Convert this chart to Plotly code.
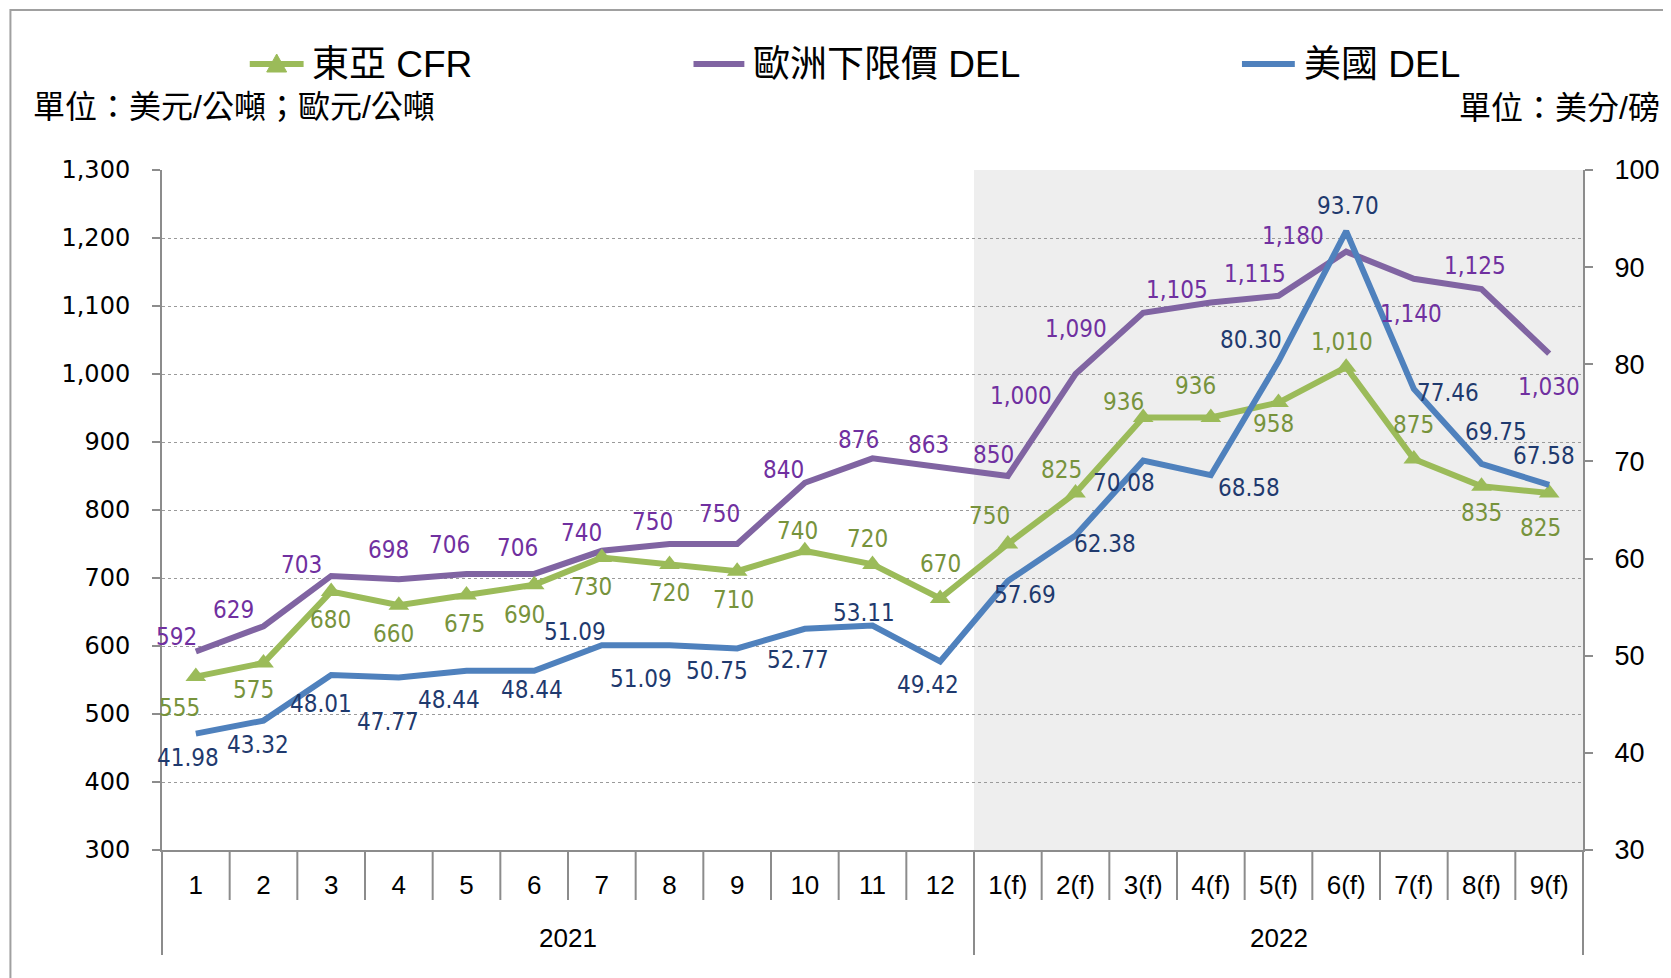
import plotly.graph_objects as go

# ---------------- data ----------------
months = ["1", "2", "3", "4", "5", "6", "7", "8", "9", "10", "11", "12",
          "1(f)", "2(f)", "3(f)", "4(f)", "5(f)", "6(f)", "7(f)", "8(f)", "9(f)"]
years = ["2021", "2022"]
year_counts = [12, 9]

east_asia_cfr = [555, 575, 680, 660, 675, 690, 730, 720, 710, 740, 720, 670,
                 750, 825, 936, 936, 958, 1010, 875, 835, 825]
europe_del = [592, 629, 703, 698, 706, 706, 740, 750, 750, 840, 876, 863,
              850, 1000, 1090, 1105, 1115, 1180, 1140, 1125, 1030]
us_del = [41.98, 43.32, 48.01, 47.77, 48.44, 48.44, 51.09, 51.09, 50.75, 52.77, 53.11, 49.42,
          57.69, 62.38, 70.08, 68.58, 80.30, 93.70, 77.46, 69.75, 67.58]

series_names = ["東亞 CFR", "歐洲下限價 DEL", "美國 DEL"]
left_unit = "單位：美元/公噸；歐元/公噸"
right_unit = "單位：美分/磅"

# ---------------- label offsets (screen px, dx right, dy down) ----------------
eu_off = [(-18, -14), (-28, -15), (-28, -10), (-10, -28), (-16, -27), (-16, -24), (-19, -17),
          (-16, -21), (-17, -28), (-20, -12), (-13, -17), (-11, -21), (-13, -20), (-51, 21),
          (-63, 15), (-32, -12), (-22, -20), (-50, -15), (-3, 33), (-6, -22), (0, 31)]
ea_off = [(-15, 29), (-9, 25), (-1, 27), (-5, 27), (-2, 27), (-9, 28), (-10, 28), (0, 27),
          (-3, 27), (-7, -19), (-5, -24), (0, -32), (-17, -26), (-13, -22), (-18, -15),
          (-14, -30), (-5, 20), (-4, -24), (0, -32), (0, 25), (-8, 33)]
us_off = [(-7, 23), (-5, 23), (-10, 27), (-10, 42), (-16, 27), (-2, 18), (-25, -12), (-27, 32),
          (-19, 21), (-6, 29), (-8, -12), (-11, 22), (16, 13), (28, 8), (-18, 21), (36, 12),
          (-26, -20), (2, -24), (32, 4), (14, -30), (-5, -27)]

# ---------------- style ----------------
W, H = 1671, 978
OFF = 8  # browser body margin
L, R, T, B = 162, 1587, 170, 850   # page pixel positions of the plot area
C_GREEN, C_PURPLE, C_BLUE = "#9BBB59", "#8064A2", "#4F81BD"
T_GREEN, T_PURPLE, T_BLUE = "#77933C", "#7030A0", "#1F3A6E"
AXIS = "#8C8C8C"
SCALE = 1.0657
LABEL_FONT = "Liberation Sans Narrow, Arial Narrow, DejaVu Sans Condensed, sans-serif"
CJK = "Liberation Sans, Noto Sans CJK TC, sans-serif"
ARIAL = "Liberation Sans, Arial, sans-serif"


def px2x(px):
    return (px - L) / (R - L)


def px2y(py):
    return (B - py) / (B - T)


n = len(months)
xs = list(range(n))

fig = go.Figure()
fig.add_trace(go.Scatter(x=xs, y=europe_del, mode="lines", name=series_names[1],
                         line=dict(color=C_PURPLE, width=6), yaxis="y"))
fig.add_trace(go.Scatter(x=xs, y=east_asia_cfr, mode="lines+markers", name=series_names[0],
                         line=dict(color=C_GREEN, width=6),
                         marker=dict(symbol="triangle-up", size=18, color=C_GREEN), yaxis="y"))
fig.add_trace(go.Scatter(x=xs, y=us_del, mode="lines", name=series_names[2],
                         line=dict(color=C_BLUE, width=6), yaxis="y2"))

ann = []


def add_labels(vals, offs, color, yref, fmt):
    for i, (v, (dx, dy)) in enumerate(zip(vals, offs)):
        ann.append(dict(x=i, y=v, xref="x", yref=yref, text=fmt(v), showarrow=False,
                        xshift=dx * SCALE, yshift=-dy * SCALE,
                        font=dict(family=LABEL_FONT, size=24, color=color)))


add_labels(europe_del, eu_off, T_PURPLE, "y", lambda v: f"{v:,.0f}")
add_labels(east_asia_cfr, ea_off, T_GREEN, "y", lambda v: f"{v:,.0f}")
add_labels(us_del, us_off, T_BLUE, "y2", lambda v: f"{v:.2f}")

# year labels
start = 0
for yr, cnt in zip(years, year_counts):
    ann.append(dict(x=start + (cnt - 1) / 2, y=px2y(938), xref="x", yref="paper", text=yr,
                    showarrow=False, yanchor="middle", xanchor="center",
                    font=dict(family=ARIAL, size=26, color="#000")))
    start += cnt

# units
ann.append(dict(x=px2x(31), y=px2y(107), xref="paper", yref="paper", text=left_unit, showarrow=False,
                xanchor="left", yanchor="middle", font=dict(family=CJK, size=32, color="#000")))
ann.append(dict(x=px2x(1666), y=px2y(108), xref="paper", yref="paper", text=right_unit, showarrow=False,
                xanchor="right", yanchor="middle", font=dict(family=CJK, size=32, color="#000")))

shapes = []
# legend (manual)
leg = [(series_names[0], C_GREEN, 250, 304, 310, True),
       (series_names[1], C_PURPLE, 695, 746, 753, False),
       (series_names[2], C_BLUE, 1245, 1298, 1305, False)]
LEG_Y = 64
for name, col, x0, x1, xt, tri in leg:
    shapes.append(dict(type="line", xref="paper", yref="paper", x0=px2x(x0), x1=px2x(x1),
                       y0=px2y(LEG_Y), y1=px2y(LEG_Y), line=dict(color=col, width=6)))
    if tri:
        cx = (x0 + x1) / 2
        path = (f"M {px2x(cx - 10)},{px2y(LEG_Y + 8)} L {px2x(cx + 10)},{px2y(LEG_Y + 8)} "
                f"L {px2x(cx)},{px2y(LEG_Y - 10)} Z")
        shapes.append(dict(type="path", xref="paper", yref="paper", path=path,
                           fillcolor=col, line=dict(color=col, width=1)))
    ann.append(dict(x=px2x(xt), y=px2y(LEG_Y), xref="paper", yref="paper", text=name, showarrow=False,
                    xanchor="left", yanchor="middle", font=dict(family=CJK, size=37, color="#000")))

# forecast shading
shapes.append(dict(type="rect", xref="x", yref="paper", x0=year_counts[0] - 0.5, x1=n - 0.5,
                   y0=0, y1=1, fillcolor="#EEEEEE", line=dict(width=0), layer="below"))

# category separators below axis
year_bounds = [0]
for c in year_counts:
    year_bounds.append(year_bounds[-1] + c)
for k in range(n + 1):
    xp = k / n
    y1 = px2y(955) if k in year_bounds else px2y(900)
    shapes.append(dict(type="line", xref="paper", yref="paper", x0=xp, x1=xp, y0=0, y1=y1,
                       line=dict(color=AXIS, width=2)))

# outer border
shapes.append(dict(type="rect", xref="paper", yref="paper", x0=px2x(10), x1=px2x(1700),
                   y0=px2y(1010), y1=px2y(10), line=dict(color="#A0A0A0", width=2)))

fig.update_layout(
    width=W - OFF, height=H - OFF,
    margin=dict(l=L - OFF, r=W - R, t=T - OFF, b=H - B),
    paper_bgcolor="white", plot_bgcolor="rgba(0,0,0,0)",
    showlegend=False,
    annotations=ann, shapes=shapes,
    xaxis=dict(range=[-0.5, n - 0.5], tickmode="array", tickvals=xs, ticktext=months,
               showgrid=False, zeroline=False, showline=True, linecolor=AXIS, linewidth=2,
               ticks="", ticklabelstandoff=11,
               tickfont=dict(family=ARIAL, size=26, color="#000")),
    yaxis=dict(range=[300, 1300], dtick=100, tickformat=",d", showgrid=True, gridcolor="#9A9A9A",
               griddash="dot", gridwidth=1, zeroline=False, showline=True, linecolor=AXIS, linewidth=2,
               ticks="outside", ticklen=8, tickcolor=AXIS, tickwidth=2, ticklabelstandoff=17,
               tickfont=dict(family="DejaVu Sans, sans-serif", size=24, color="#000")),
    yaxis2=dict(range=[30, 100], dtick=10, overlaying="y", side="right", showgrid=False,
                zeroline=False, showline=True, linecolor=AXIS, linewidth=2,
                ticks="outside", ticklen=8, tickcolor=AXIS, tickwidth=2, ticklabelstandoff=16,
                tickfont=dict(family=ARIAL, size=27, color="#000")),
)

fig.write_html("out.html")
